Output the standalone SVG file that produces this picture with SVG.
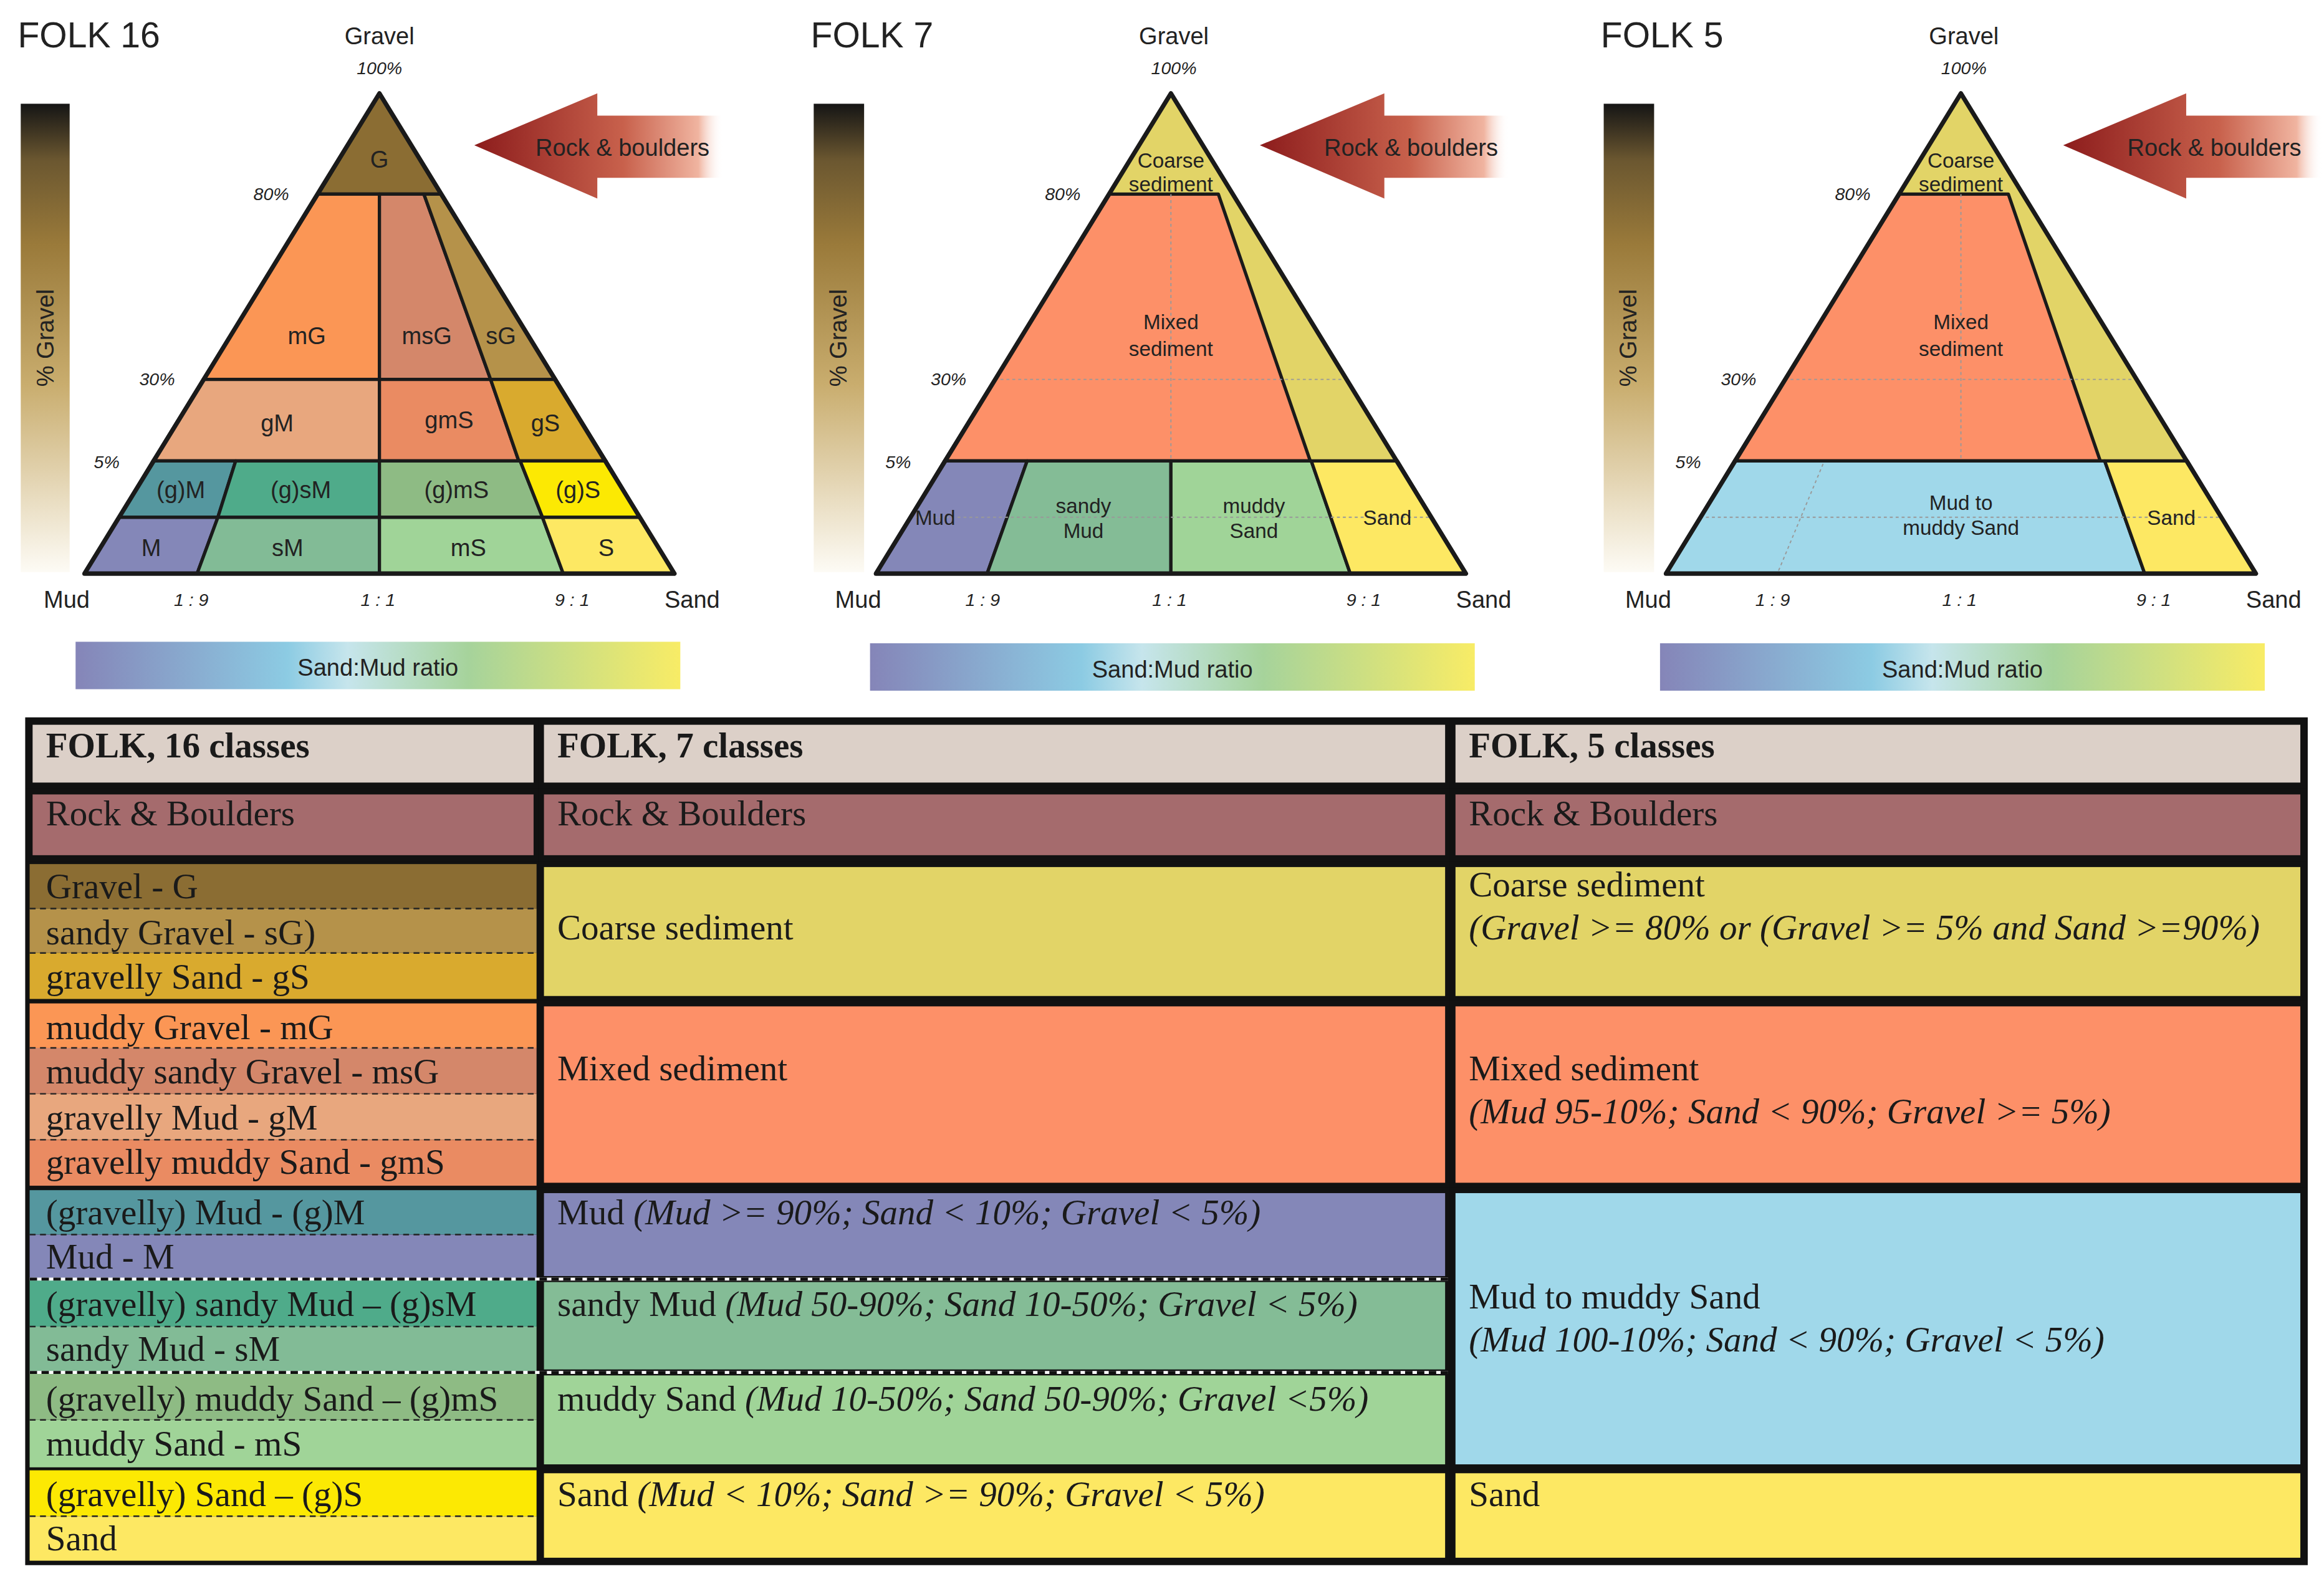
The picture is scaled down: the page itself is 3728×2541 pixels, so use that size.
<svg xmlns="http://www.w3.org/2000/svg" width="3728" height="2541" viewBox="0 0 3728 2541">
<defs>
<linearGradient id="gbar" x1="0" y1="0" x2="0" y2="1">
<stop offset="0" stop-color="#151515"/><stop offset="0.12" stop-color="#6b5730"/><stop offset="0.3" stop-color="#9a7a3a"/><stop offset="0.6" stop-color="#c9ad6e"/><stop offset="1" stop-color="#fdfbf5"/>
</linearGradient>
<linearGradient id="rbar" x1="0" y1="0" x2="1" y2="0">
<stop offset="0" stop-color="#8585b8"/><stop offset="0.35" stop-color="#8ccbe3"/><stop offset="0.45" stop-color="#c6e5ec"/><stop offset="0.65" stop-color="#a6d39b"/><stop offset="1" stop-color="#f8ec66"/>
</linearGradient>
<linearGradient id="arr" x1="0" y1="0" x2="1" y2="0">
<stop offset="0" stop-color="#8c1c1c"/><stop offset="0.6" stop-color="#c8614c"/><stop offset="0.9" stop-color="#f0b4a0"/><stop offset="1" stop-color="#ffffff" stop-opacity="0"/>
</linearGradient>
<style>
.s{font-family:"Liberation Sans",Arial,sans-serif;fill:#222}
.c{text-anchor:middle}
.i{font-style:italic;font-size:12px}
.l{font-size:16px}
.e{stroke:#1a1a1a;stroke-width:2.2;stroke-linejoin:round}
.o{fill:none;stroke:#1a1a1a;stroke-width:3;stroke-linejoin:round}
.d{stroke:#999;stroke-width:0.8;stroke-dasharray:2 2;fill:none}
.t{font-family:"Liberation Serif","Times New Roman",serif;font-size:24px;fill:#1a1a1a}
.b{font-weight:bold}
.it{font-style:italic}
.cell{stroke:#111;stroke-width:4}
.ds{stroke:#222;stroke-width:1;stroke-dasharray:4 3}
</style>
</defs>
<rect width="3728" height="2541" fill="#fff"/>
<g transform="scale(2.3776)">

<!-- FOLK 16 -->
<g id="folk16">
<text class="s" x="12" y="32" font-size="24">FOLK 16</text>
<rect x="14" y="70" width="33" height="316" fill="url(#gbar)"/>
<text class="s c" transform="translate(36,228) rotate(-90)" font-size="16">% Gravel</text>
<text class="s c l" x="256" y="30">Gravel</text>
<text class="s c i" x="256" y="50">100%</text>
<polygon points="256,63 214.7,131 297.3,131" fill="#8b6d33" class="e"/>
<polygon points="214.7,131 256,131 256,256 137.1,256" fill="#fb9655" class="e"/>
<polygon points="256,131 286,131 331,256 256,256" fill="#d4876a" class="e"/>
<polygon points="286,131 297.3,131 374.9,256 331,256" fill="#b5924a" class="e"/>
<polygon points="137.1,256 256,256 256,311 103.2,311" fill="#e8a77e" class="e"/>
<polygon points="256,256 331,256 350,311 256,311" fill="#ea8b62" class="e"/>
<polygon points="331,256 374.9,256 408.8,311 350,311" fill="#d9aa2e" class="e"/>
<polygon points="103.2,311 159,311 147,349 80.4,349" fill="#55979f" class="e"/>
<polygon points="159,311 256,311 256,349 147,349" fill="#4fab8a" class="e"/>
<polygon points="256,311 351,311 366,349 256,349" fill="#8ebb84" class="e"/>
<polygon points="351,311 408.8,311 431.6,349 366,349" fill="#fce903" class="e"/>
<polygon points="80.4,349 147,349 133,387 57,387" fill="#8487b8" class="e"/>
<polygon points="147,349 256,349 256,387 133,387" fill="#82bb96" class="e"/>
<polygon points="256,349 366,349 380,387 256,387" fill="#a0d498" class="e"/>
<polygon points="366,349 431.6,349 455,387 380,387" fill="#fde863" class="e"/>
<polygon points="256,63 455,387 57,387" class="o"/>
<g class="s c l">
<text x="256" y="113">G</text><text x="207" y="232">mG</text><text x="288" y="232">msG</text><text x="338" y="232">sG</text>
<text x="187" y="291">gM</text><text x="303" y="289">gmS</text><text x="368" y="291">gS</text>
<text x="122" y="336">(g)M</text><text x="203" y="336">(g)sM</text><text x="308" y="336">(g)mS</text><text x="390" y="336">(g)S</text>
<text x="102" y="375">M</text><text x="194" y="375">sM</text><text x="316" y="375">mS</text><text x="409" y="375">S</text>
</g>
<g class="s c i"><text x="183" y="135">80%</text><text x="106" y="260">30%</text><text x="72" y="316">5%</text>
<text x="129" y="409">1 : 9</text><text x="255" y="409">1 : 1</text><text x="386" y="409">9 : 1</text></g>
<text class="s c l" x="45" y="410">Mud</text><text class="s c l" x="467" y="410">Sand</text>
<polygon points="320,98 403,63 403,78 488,78 488,120 403,120 403,134" fill="url(#arr)"/>
<text class="s c l" x="420" y="105">Rock &amp; boulders</text>
<rect x="51" y="433" width="408" height="32" fill="url(#rbar)"/>
<text class="s c l" x="255" y="456">Sand:Mud ratio</text>
</g>

<!-- FOLK 7 -->
<g id="folk7" transform="translate(534,0)">
<text class="s" x="13" y="32" font-size="24">FOLK 7</text>
<rect x="15" y="70" width="34" height="316" fill="url(#gbar)"/>
<text class="s c" transform="translate(37,228) rotate(-90)" font-size="16">% Gravel</text>
<text class="s c l" x="258" y="30">Gravel</text>
<text class="s c i" x="258" y="50">100%</text>
<polygon points="256,63 455,387 57,387" fill="#e2d467"/>
<polygon points="214.7,131 288,131 350,311 103.2,311" fill="#fd9068" class="e"/>
<polygon points="103.2,311 159,311 132,387 57,387" fill="#8487b8" class="e"/>
<polygon points="159,311 256,311 256,387 132,387" fill="#84bc96" class="e"/>
<polygon points="256,311 350.7,311 377,387 256,387" fill="#a0d498" class="e"/>
<polygon points="350.7,311 408.8,311 455,387 377,387" fill="#fde863" class="e"/>
<path class="d" d="M256,131V311M137,256H375M80,349H432"/>
<polygon points="256,63 455,387 57,387" class="o"/>
<g class="s c" font-size="14">
<text x="256" y="113">Coarse</text><text x="256" y="129">sediment</text>
<text x="256" y="222">Mixed</text><text x="256" y="240">sediment</text>
<text x="97" y="354">Mud</text><text x="197" y="346">sandy</text><text x="197" y="363">Mud</text>
<text x="312" y="346">muddy</text><text x="312" y="363">Sand</text><text x="402" y="354">Sand</text>
</g>
<g class="s c i"><text x="183" y="135">80%</text><text x="106" y="260">30%</text><text x="72" y="316">5%</text>
<text x="129" y="409">1 : 9</text><text x="255" y="409">1 : 1</text><text x="386" y="409">9 : 1</text></g>
<text class="s c l" x="45" y="410">Mud</text><text class="s c l" x="467" y="410">Sand</text>
<polygon points="316,98 400,63 400,78 484,78 484,120 400,120 400,134" fill="url(#arr)"/>
<text class="s c l" x="418" y="105">Rock &amp; boulders</text>
<rect x="53" y="434" width="408" height="32" fill="url(#rbar)"/>
<text class="s c l" x="257" y="457">Sand:Mud ratio</text>
</g>

<!-- FOLK 5 -->
<g id="folk5" transform="translate(1067,0)">
<text class="s" x="13" y="32" font-size="24">FOLK 5</text>
<rect x="15" y="70" width="34" height="316" fill="url(#gbar)"/>
<text class="s c" transform="translate(37,228) rotate(-90)" font-size="16">% Gravel</text>
<text class="s c l" x="258" y="30">Gravel</text>
<text class="s c i" x="258" y="50">100%</text>
<polygon points="256,63 455,387 57,387" fill="#e2d467"/>
<polygon points="214.7,131 288,131 350,311 103.2,311" fill="#fd9068" class="e"/>
<polygon points="103.2,311 353,311 380,387 57,387" fill="#a0d8ea" class="e"/>
<polygon points="353,311 408.8,311 455,387 380,387" fill="#fde863" class="e"/>
<path class="d" d="M256,131V311M137,256H375M80,349H432M163,313L133,385"/>
<polygon points="256,63 455,387 57,387" class="o"/>
<g class="s c" font-size="14">
<text x="256" y="113">Coarse</text><text x="256" y="129">sediment</text>
<text x="256" y="222">Mixed</text><text x="256" y="240">sediment</text>
<text x="256" y="344">Mud to</text><text x="256" y="361">muddy Sand</text>
<text x="398" y="354">Sand</text>
</g>
<g class="s c i"><text x="183" y="135">80%</text><text x="106" y="260">30%</text><text x="72" y="316">5%</text>
<text x="129" y="409">1 : 9</text><text x="255" y="409">1 : 1</text><text x="386" y="409">9 : 1</text></g>
<text class="s c l" x="45" y="410">Mud</text><text class="s c l" x="467" y="410">Sand</text>
<polygon points="325,98 408,63 408,78 500,78 500,120 408,120 408,134" fill="url(#arr)"/>
<text class="s c l" x="427" y="105">Rock &amp; boulders</text>
<rect x="53" y="434" width="408" height="32" fill="url(#rbar)"/>
<text class="s c l" x="257" y="457">Sand:Mud ratio</text>
</g>

<!-- TABLE -->
<g id="table">
<rect x="17" y="484" width="1540" height="572" fill="#111"/>
<g class="cell">
<rect x="20" y="487" width="342" height="43" fill="#dcd0c8"/>
<rect x="365" y="487" width="612" height="43" fill="#dcd0c8"/>
<rect x="980" y="487" width="574" height="43" fill="#dcd0c8"/>
<rect x="20" y="534" width="342" height="45" fill="#a56b6d"/>
<rect x="365" y="534" width="612" height="45" fill="#a56b6d"/>
<rect x="980" y="534" width="574" height="45" fill="#a56b6d"/>
<rect x="365" y="583" width="612" height="91" fill="#e2d467"/>
<rect x="980" y="583" width="574" height="91" fill="#e2d467"/>
<rect x="365" y="677" width="612" height="123" fill="#fd9068"/>
<rect x="980" y="677" width="574" height="123" fill="#fd9068"/>
<rect x="365" y="803" width="612" height="60" fill="#8487b8"/>
<rect x="365" y="863" width="612" height="63" fill="#84bc96"/>
<rect x="365" y="926" width="612" height="64" fill="#a0d498"/>
<rect x="980" y="803" width="574" height="187" fill="#a0d8ea"/>
<rect x="365" y="992" width="612" height="61" fill="#fde863"/>
<rect x="980" y="992" width="574" height="61" fill="#fde863"/>
</g>
<g>
<rect x="20" y="583" width="342" height="30" fill="#8b6d33"/>
<rect x="20" y="613" width="342" height="30" fill="#b5924a"/>
<rect x="20" y="643" width="342" height="31" fill="#d9aa2e"/>
<rect x="20" y="677" width="342" height="30" fill="#fb9655"/>
<rect x="20" y="707" width="342" height="31" fill="#d4876a"/>
<rect x="20" y="738" width="342" height="31" fill="#e8a77e"/>
<rect x="20" y="769" width="342" height="31" fill="#ea8b62"/>
<rect x="20" y="803" width="342" height="30" fill="#55979f"/>
<rect x="20" y="833" width="342" height="30" fill="#8487b8"/>
<rect x="20" y="863" width="342" height="32" fill="#4fab8a"/>
<rect x="20" y="895" width="342" height="31" fill="#82bb96"/>
<rect x="20" y="926" width="342" height="32" fill="#8ebb84"/>
<rect x="20" y="958" width="342" height="32" fill="#a0d498"/>
<rect x="20" y="992" width="342" height="31" fill="#fce903"/>
<rect x="20" y="1023" width="342" height="30" fill="#fde863"/>
</g>
<path class="ds" d="M20,613H362M20,643H362M20,707H362M20,738H362M20,769H362M20,833H362M20,895H362M20,958H362M20,1023H362"/>
<path d="M20,863H977M20,926H977" stroke="#fff" stroke-width="2"/>
<path d="M20,863H977M20,926H977" stroke="#111" stroke-width="2" stroke-dasharray="5 3"/>
<g class="t">
<text class="b" x="31" y="511">FOLK, 16 classes</text>
<text class="b" x="376" y="511">FOLK, 7 classes</text>
<text class="b" x="991" y="511">FOLK, 5 classes</text>
<text x="31" y="557">Rock &amp; Boulders</text>
<text x="376" y="557">Rock &amp; Boulders</text>
<text x="991" y="557">Rock &amp; Boulders</text>
<text x="31" y="606">Gravel - G</text>
<text x="31" y="637">sandy Gravel - sG)</text>
<text x="31" y="667">gravelly Sand - gS</text>
<text x="31" y="701">muddy Gravel - mG</text>
<text x="31" y="731">muddy sandy Gravel - msG</text>
<text x="31" y="762">gravelly Mud - gM</text>
<text x="31" y="792">gravelly muddy Sand - gmS</text>
<text x="31" y="826">(gravelly) Mud - (g)M</text>
<text x="31" y="856">Mud - M</text>
<text x="31" y="888">(gravelly) sandy Mud – (g)sM</text>
<text x="31" y="918">sandy Mud - sM</text>
<text x="31" y="952">(gravelly) muddy Sand – (g)mS</text>
<text x="31" y="982">muddy Sand - mS</text>
<text x="31" y="1016">(gravelly) Sand – (g)S</text>
<text x="31" y="1046">Sand</text>
<text x="376" y="634">Coarse sediment</text>
<text x="376" y="729">Mixed sediment</text>
<text x="376" y="826">Mud <tspan class="it">(Mud &gt;= 90%; Sand &lt; 10%; Gravel &lt; 5%)</tspan></text>
<text x="376" y="888">sandy Mud <tspan class="it">(Mud 50-90%; Sand 10-50%; Gravel &lt; 5%)</tspan></text>
<text x="376" y="952">muddy Sand <tspan class="it">(Mud 10-50%; Sand 50-90%; Gravel &lt;5%)</tspan></text>
<text x="376" y="1016">Sand <tspan class="it">(Mud &lt; 10%; Sand &gt;= 90%; Gravel &lt; 5%)</tspan></text>
<text x="991" y="605">Coarse sediment</text>
<text class="it" x="991" y="634">(Gravel &gt;= 80% or (Gravel &gt;= 5% and Sand &gt;=90%)</text>
<text x="991" y="729">Mixed sediment</text>
<text class="it" x="991" y="758">(Mud 95-10%; Sand &lt; 90%; Gravel &gt;= 5%)</text>
<text x="991" y="883">Mud to muddy Sand</text>
<text class="it" x="991" y="912">(Mud 100-10%; Sand &lt; 90%; Gravel &lt; 5%)</text>
<text x="991" y="1016">Sand</text>
</g>
</g>
</g>
</svg>
